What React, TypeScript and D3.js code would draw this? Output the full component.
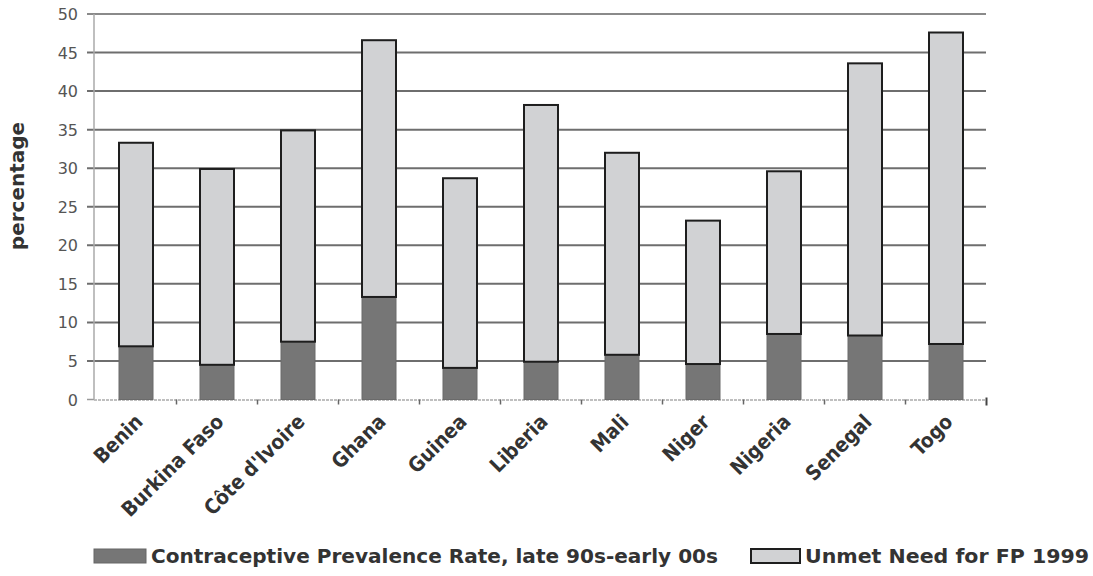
import React from "react";
import * as d3 from "d3";

const countries = ["Benin", "Burkina Faso", "Côte d'Ivoire", "Ghana", "Guinea", "Liberia", "Mali", "Niger", "Nigeria", "Senegal", "Togo"];
const cpr = [6.9, 4.5, 7.5, 13.3, 4.1, 4.9, 5.8, 4.6, 8.5, 8.3, 7.2];
const unmet = [26.4, 25.4, 27.4, 33.3, 24.6, 33.3, 26.2, 18.6, 21.1, 35.3, 40.4];
const yTicks = [0, 5, 10, 15, 20, 25, 30, 35, 40, 45, 50];
const seriesNames = ["Contraceptive Prevalence Rate, late 90s-early 00s", "Unmet Need for FP 1999"];

const W = 1093, H = 576;
const axisX = 94;
const x = d3.scaleBand<string>().domain(countries).range([95.5, 986.5]).padding(0);
const y = d3.scaleLinear().domain([0, 50]).range([399.5, 14]);
const barW = 34;
const DARK = "#767676";
const LIGHT = "#d1d2d4";

export default function App() {
  const bw = x.bandwidth();
  return (
    <svg width={W} height={H} style={{ position: "absolute", left: 0, top: 0, background: "#fff" }}>
      {/* gridlines */}
      {yTicks.filter(t => t > 0).map(t => (
        <line key={t} x1={87} x2={986} y1={y(t)} y2={y(t)} stroke={t === 50 ? "#8a8a8a" : "#6e6e6e"} strokeWidth={2} />
      ))}
      <line x1={87} x2={axisX} y1={y(0)} y2={y(0)} stroke="#999" strokeWidth={1.5} />
      {/* y axis */}
      <line x1={axisX} x2={axisX} y1={y(50)} y2={y(0)} stroke="#aaa" strokeWidth={1.5} />
      {/* x axis */}
      <line x1={axisX} x2={987} y1={y(0) + 0.5} y2={y(0) + 0.5} stroke="#aaa" strokeWidth={1.5} strokeDasharray="3,1" />
      {countries.map((c, i) => (
        i > 0 ? <line key={"t" + c} x1={x(c)!} x2={x(c)!} y1={y(0)} y2={y(0) + 5} stroke="#666" strokeWidth={1.5} /> : null
      ))}
      <line x1={986.5} x2={986.5} y1={y(0) - 2} y2={y(0) + 6} stroke="#444" strokeWidth={2} />
      {/* y tick labels */}
      {yTicks.map(t => (
        <text key={"l" + t} x={78} y={y(t) + 6} textAnchor="end" fontFamily="'DejaVu Sans', sans-serif" fontSize={16} fill="#555">{t}</text>
      ))}
      <text transform={`translate(24,186) rotate(-90)`} textAnchor="middle" fontFamily="'DejaVu Sans', sans-serif" fontWeight="bold" fontSize={20} fill="#333">percentage</text>
      {/* bars */}
      {countries.map((c, i) => {
        const cx = x(c)! + bw / 2;
        const x0 = cx - barW / 2;
        return (
          <g key={c}>
            <rect x={x0} y={y(cpr[i])} width={barW} height={y(0) - y(cpr[i])} fill={DARK} stroke="#6a6a6a" strokeWidth={1} />
            <rect x={x0} y={y(cpr[i] + unmet[i])} width={barW} height={y(cpr[i]) - y(cpr[i] + unmet[i])} fill={LIGHT} stroke="#1e1e1e" strokeWidth={2} />
          </g>
        );
      })}
      {/* x labels */}
      {countries.map(c => {
        const cx = x(c)! + bw / 2;
        return (
          <text key={"x" + c} transform={`translate(${cx + 8},${423}) rotate(-45)`} textAnchor="end" fontFamily="'DejaVu Sans Condensed', 'DejaVu Sans', sans-serif" fontWeight="bold" fontSize={20.5} fill="#333">{c}</text>
        );
      })}
      {/* legend */}
      <rect x={94} y={549} width={52} height={14} fill={DARK} stroke="#666" strokeWidth={1} />
      <text x={151} y={563} fontFamily="'DejaVu Sans Condensed', sans-serif" fontWeight="bold" fontSize={19} fill="#333" textLength={567} lengthAdjust="spacingAndGlyphs">{seriesNames[0]}</text>
      <rect x={751} y={549} width={49} height={14} fill={LIGHT} stroke="#1e1e1e" strokeWidth={2} />
      <text x={805} y={563} fontFamily="'DejaVu Sans Condensed', sans-serif" fontWeight="bold" fontSize={19} fill="#333" textLength={284} lengthAdjust="spacingAndGlyphs">{seriesNames[1]}</text>
    </svg>
  );
}
